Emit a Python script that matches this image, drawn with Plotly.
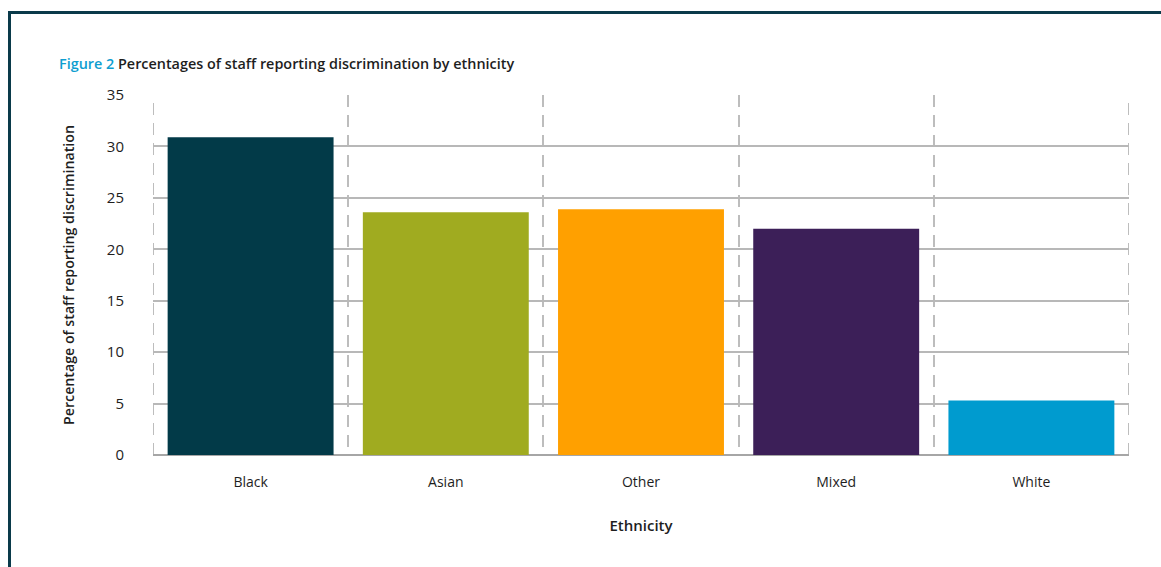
import plotly.graph_objects as go

categories = ["Black", "Asian", "Other", "Mixed", "White"]
values = [30.9, 23.6, 23.9, 22.0, 5.3]
bar_colors = ["#023a48", "#a0ab20", "#ffa000", "#3c1f58", "#009bcf"]
y_ticks = [0, 5, 10, 15, 20, 25, 30, 35]

title_prefix = "Figure 2"
title_text = "Percentages of staff reporting discrimination by ethnicity"
x_title = "Ethnicity"
y_title = "Percentage of staff reporting discrimination"

FONT = "Open Sans"
TXT = "#1e1e1e"
GRID = "#bdbdbd"
DASH = "12px,8px"

fig = go.Figure(
    go.Bar(
        x=categories,
        y=values,
        marker=dict(color=bar_colors, line=dict(width=0)),
        width=0.85,
        hoverinfo="x+y",
    )
)

W, H = 1161, 567
L, R, T, B = 153, 32, 95, 112
pw, ph = W - L - R, H - T - B

def px_x(p):
    return (p - L) / pw

def px_y(p):
    return (H - B - p) / ph

edge_lines = [
    dict(type="line", xref="x", yref="paper", x0=xv, x1=xv, y0=0, y1=1,
         line=dict(color=GRID, width=2, dash=DASH), layer="below")
    for xv in (-0.5, len(categories) - 0.5)
]

fig.update_layout(
    width=W,
    height=H,
    margin=dict(l=L, r=R, t=T, b=B, autoexpand=False),
    paper_bgcolor="white",
    plot_bgcolor="white",
    showlegend=False,
    font=dict(family=FONT, size=14, color=TXT),
    xaxis=dict(
        type="category",
        range=[-0.5, 4.5],
        tickson="boundaries",
        showgrid=True,
        gridcolor=GRID,
        gridwidth=2,
        griddash=DASH,
        ticks="",
        showline=False,
        zeroline=False,
        tickfont=dict(family=FONT, size=14, color=TXT),
        ticklabelstandoff=17,
        title=dict(text=x_title, standoff=30,
                   font=dict(family=FONT, size=15, color=TXT, weight=600)),
        automargin=False,
        fixedrange=True,
    ),
    yaxis=dict(
        range=[0, 35],
        tickvals=y_ticks,
        showgrid=True,
        gridcolor="#b8b8b8",
        gridwidth=2,
        zeroline=True,
        zerolinecolor="#a6a6a6",
        zerolinewidth=2,
        showline=False,
        ticks="",
        tickfont=dict(family=FONT, size=15, color=TXT),
        ticklabelstandoff=28,
        title=dict(text=y_title, standoff=28,
                   font=dict(family=FONT, size=14.2, color=TXT, weight=600)),
        automargin=False,
        fixedrange=True,
    ),
    bargap=0.15,
    shapes=edge_lines + [
        dict(type="line", xref="paper", yref="paper",
             x0=px_x(10), x1=px_x(W + 5), y0=px_y(12.5), y1=px_y(12.5),
             line=dict(color="#0a3a4a", width=3), layer="above"),
        dict(type="line", xref="paper", yref="paper",
             x0=px_x(9.5), x1=px_x(9.5), y0=px_y(11), y1=px_y(H + 5),
             line=dict(color="#0a3a4a", width=3), layer="above"),
    ],
    annotations=[
        dict(
            xref="paper", yref="paper",
            x=px_x(57), y=px_y(63),
            xanchor="left", yanchor="middle",
            showarrow=False,
            text=f"<span style='color:#0e9ed0'>{title_prefix}</span> {title_text}",
            font=dict(family=FONT, size=14.4, color=TXT, weight=600),
        )
    ],
)

fig.write_html("out.html")
